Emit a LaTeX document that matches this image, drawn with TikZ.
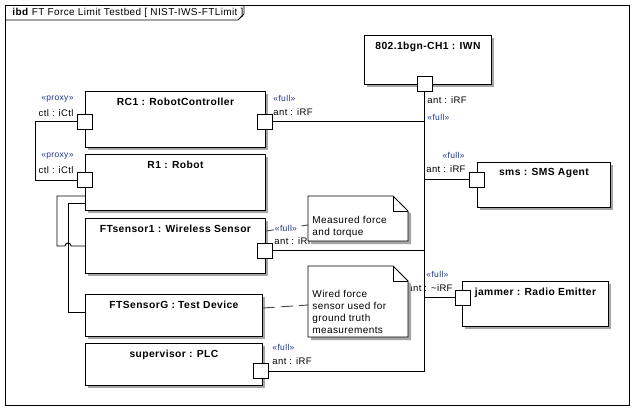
\documentclass[tikz,border=0pt]{standalone}
\usepackage{fontspec}
\setmainfont{Liberation Sans}[LetterSpace=4]
\usetikzlibrary{shadows,calc}

\definecolor{stereo}{RGB}{30,55,140}
\definecolor{shade}{RGB}{165,165,165}
\definecolor{anchorgray}{RGB}{70,70,70}

\tikzset{
  part/.style={draw, fill=white, anchor=north west, inner sep=0pt,
    drop shadow={shadow xshift=3pt, shadow yshift=-3pt, fill=shade, opacity=1}},
  ptitle/.style={font=\fontsize{10.3}{12}\selectfont\bfseries, anchor=north, yshift=-3pt},
  port/.style={draw, fill=white, minimum size=15pt, inner sep=0pt},
  stereo/.style={font=\fontsize{8.5}{10}\selectfont, text=stereo, inner sep=0pt},
  plabel/.style={font=\fontsize{9.5}{11}\selectfont, inner sep=0pt},
  notebody/.style={draw, fill=white,
    drop shadow={shadow xshift=3pt, shadow yshift=-3pt, fill=shade, opacity=1}},
  notetext/.style={font=\fontsize{10}{12}\selectfont, align=left, anchor=south west, inner sep=0pt},
  anchorline/.style={draw=anchorgray, dash pattern=on 12pt off 6pt},
}

\begin{document}
\begin{tikzpicture}[x=1pt,y=-1pt,line width=0.9pt]
\fill[white] (0,0) rectangle (634,410);
\useasboundingbox (0,0) rectangle (634,410);

% diagram frame
\draw (5,5) rectangle (629,405);
\draw (5,20) -- (238,20) -- (244,14) -- (244,5);
\node[anchor=west, font=\fontsize{10}{11}\selectfont, inner sep=0pt] (frametitle) at (12,13)
  {\textbf{ibd}\ FT Force Limit Testbed [ NIST-IWS-FTLimit ]};

% parts
\node[part, minimum width=127pt, minimum height=49pt,
  label={[ptitle]north:802.1bgn-CH1 : IWN}] (iwn) at (364,35) {};
\node[part, minimum width=180pt, minimum height=56pt,
  label={[ptitle]north:RC1 : RobotController}] (rc1) at (85,91) {};
\node[part, minimum width=180pt, minimum height=56pt,
  label={[ptitle]north:R1 : Robot}] (r1) at (85,154) {};
\node[part, minimum width=180pt, minimum height=55pt,
  label={[ptitle]north:FTsensor1 : Wireless Sensor}] (fts1) at (85,218) {};
\node[part, minimum width=177pt, minimum height=42pt,
  label={[ptitle]north:FTSensorG : Test Device}] (ftsg) at (85,294) {};
\node[part, minimum width=177pt, minimum height=42pt,
  label={[ptitle]north:supervisor : PLC}] (sup) at (85,343) {};
\node[part, minimum width=133pt, minimum height=45pt,
  label={[ptitle]north:sms : SMS Agent}] (sms) at (477,162) {};
\node[part, minimum width=146pt, minimum height=45pt,
  label={[ptitle]north:jammer : Radio Emitter}] (jam) at (462,281) {};

% ports
\node[port] (iwnant) at (424.5,84) {};
\node[port] (rc1ctl) at (84.5,121.5) {};
\node[port] (rc1ant) at (264.5,121.5) {};
\node[port] (r1ctl) at (84.5,180) {};
\node[port] (fts1ant) at (264.5,250.5) {};
\node[port] (supant) at (260.5,371) {};
\node[port] (smsant) at (477,179.5) {};
\node[port] (jamant) at (462.5,297.5) {};

% wireless bus
\draw (iwnant.south) |- (supant.east);
\draw (rc1ant.east) -- (rc1ant.east -| iwnant.south);
\draw (smsant.west) -- (smsant.west -| iwnant.south);
\draw (fts1ant.east) -- (fts1ant.east -| iwnant.south);
\draw (jamant.west) -- (jamant.west -| iwnant.south);

% control and wired links
\draw (rc1ctl.west) -- ++(-41,0) |- (r1ctl.west);
\draw ($(r1.north west)+(0,42)$) -| ($(fts1.west)+(-28,0)$) -- ($(fts1.west)+(-20,0)$)
  arc[start angle=180, end angle=0, radius=3pt] -- (fts1.west);
\draw ($(r1.north west)+(0,49)$) -| ($(ftsg.north west)+(-17,18)$) -- ($(ftsg.north west)+(0,18)$);

% port labels
\node[stereo, anchor=west] (rc1antst) at (273,98) {«full»};
\node[plabel, anchor=west] (rc1antlb) at (273,112) {ant : iRF};
\node[plabel, anchor=west] (iwnantlb) at (427,100) {ant : iRF};
\node[stereo, anchor=west] (iwnantst) at (427,117) {«full»};
\node[stereo, anchor=east] (smsantst) at (465,155) {«full»};
\node[plabel, anchor=east] (smsantlb) at (466,169) {ant : iRF};
\node[plabel, anchor=west] (fts1antlb) at (274,241) {ant : iRF};
\node[stereo, anchor=west] (jamantst) at (426,274) {«full»};
\node[plabel, anchor=east] (jamantlb) at (453,288) {ant : \textasciitilde iRF};
\node[stereo, anchor=west] (supantst) at (272,347) {«full»};
\node[plabel, anchor=west] (supantlb) at (272,361) {ant : iRF};
\node[stereo, anchor=east] (rc1ctlst) at (74,99) {«proxy»};
\node[plabel, anchor=east] (rc1ctllb) at (74,113) {ctl : iCtl};
\node[stereo, anchor=east] (r1ctlst) at (74,156) {«proxy»};
\node[plabel, anchor=east] (r1ctllb) at (74,170) {ctl : iCtl};

% comment notes
\coordinate (n1a) at (308,196);
\coordinate (n1b) at (408,241);
\coordinate (n2a) at (308,266);
\coordinate (n2b) at (408,337);
\draw[anchorline] ($(fts1.north east)+(0,13)$) -- ($(n1a)+(0,29)$);
\draw[anchorline] ($(ftsg.north east)+(0,14)$) -- ($(n2a)+(0,39)$);
\node[stereo, anchor=west, fill=white, inner sep=0.5pt] (fts1antst) at (274,228) {«full»};

\filldraw[notebody] (n1a) -- ($(n1a -| n1b)+(-15,0)$) -- ($(n1a -| n1b)+(0,15)$)
  -- (n1b) -- (n1a |- n1b) -- cycle;
\draw ($(n1a -| n1b)+(-15,0)$) -- ++(0,15) -- ++(15,0);
\node[notetext] (n1text) at ($(n1a |- n1b)+(4,-3)$) {Measured force\\and torque};

\filldraw[notebody] (n2a) -- ($(n2a -| n2b)+(-15,0)$) -- ($(n2a -| n2b)+(0,15)$)
  -- (n2b) -- (n2a |- n2b) -- cycle;
\draw ($(n2a -| n2b)+(-15,0)$) -- ++(0,15) -- ++(15,0);
\node[notetext] (n2text) at ($(n2a |- n2b)+(4,-3)$)
  {Wired force\\sensor used for\\ground truth\\measurements};
\end{tikzpicture}
\end{document}
